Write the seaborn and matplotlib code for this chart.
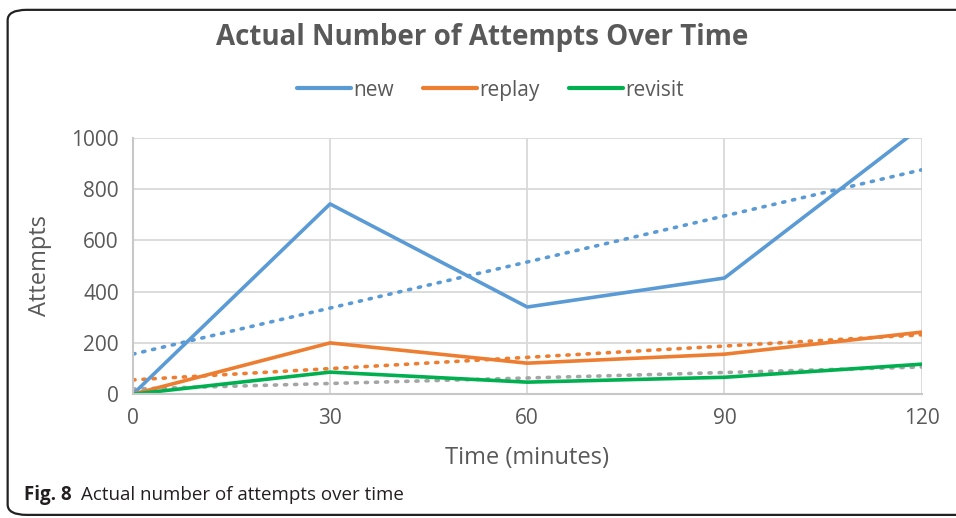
import pandas as pd
import numpy as np
import matplotlib
matplotlib.use("Agg")
import matplotlib.pyplot as plt
import seaborn as sns
from matplotlib.patches import FancyBboxPatch

# Data
minutes = [0, 30, 60, 90, 120]
new = [0, 742, 340, 453, 1043]
replay = [0, 200, 121, 156, 242]
revisit = [0, 86, 47, 66, 117]

series_names = ["new", "replay", "revisit"]
colors = {"new": "#5B9BD5", "replay": "#ED7D31", "revisit": "#00B050"}
trend_colors = {"new": "#5B9BD5", "replay": "#ED7D31", "revisit": "#A5A5A5"}

df = pd.DataFrame({"Time": minutes, "new": new, "replay": replay, "revisit": revisit})
long_df = df.melt(id_vars="Time", var_name="series", value_name="Attempts")

sns.set_style("white")
plt.rcParams['font.family'] = ['Open Sans', 'DejaVu Sans']
text_gray = "#595959"

fig = plt.figure(figsize=(9.56, 5.18), dpi=100)
ax = fig.add_axes([0.139, 0.239, 0.825, 0.495])

# trend lines first so data lines sit on top
for name in series_names:
    sns.regplot(data=df, x="Time", y=name, ax=ax, scatter=False, ci=None,
                line_kws=dict(color=trend_colors[name], linewidth=2.6,
                              linestyle=(0, (0.6, 2.2)), dash_capstyle="round"))

sns.lineplot(data=long_df, x="Time", y="Attempts", hue="series", palette=colors,
             linewidth=2.6, ax=ax, legend=False)

ax.set_xlim(0, 120)
ax.set_ylim(0, 1000)
ax.set_xticks(minutes)
ax.set_yticks(range(0, 1001, 200))
ax.grid(True, color="#D9D9D9", linewidth=1.3)
for s in ax.spines.values():
    s.set_visible(False)
for side in ["left", "bottom"]:
    ax.spines[side].set_visible(True)
    ax.spines[side].set_color("#C8C8C8")
    ax.spines[side].set_linewidth(1.5)
ax.tick_params(axis="both", length=0, labelsize=15, labelcolor=text_gray, pad=10)
ax.set_xlabel("Time (minutes)", fontsize=17, color=text_gray, labelpad=12)
ax.set_ylabel("Attempts", fontsize=17, color=text_gray, labelpad=14)

# legend
handles = [plt.Line2D([], [], color=colors[n], linewidth=3) for n in series_names]
fig.legend(handles, series_names, loc="center", bbox_to_anchor=(0.513, 0.826), ncol=3,
           frameon=False, fontsize=15, labelcolor=text_gray, handlelength=2.6,
           handletextpad=0.1, columnspacing=1.4)

fig.text(0.504, 0.928, "Actual Number of Attempts Over Time", ha="center", va="center",
         fontsize=20, fontweight="bold", color=text_gray)

# caption
fig.text(0.025, 0.044, "Fig. 8", ha="left", va="center", fontsize=13.5, fontweight="bold",
         color="#231F20")
fig.text(0.085, 0.044, "Actual number of attempts over time", ha="left", va="center",
         fontsize=13.5, color="#231F20")

# frame around figure
frame = FancyBboxPatch((0.008, 0.006), 1.05, 0.975, boxstyle="round,pad=0,rounding_size=0.02",
                       transform=fig.transFigure, fill=False, edgecolor="#222222",
                       linewidth=1.6, clip_on=False)
fig.patches.append(frame)

fig.savefig("out.png", dpi=100)
